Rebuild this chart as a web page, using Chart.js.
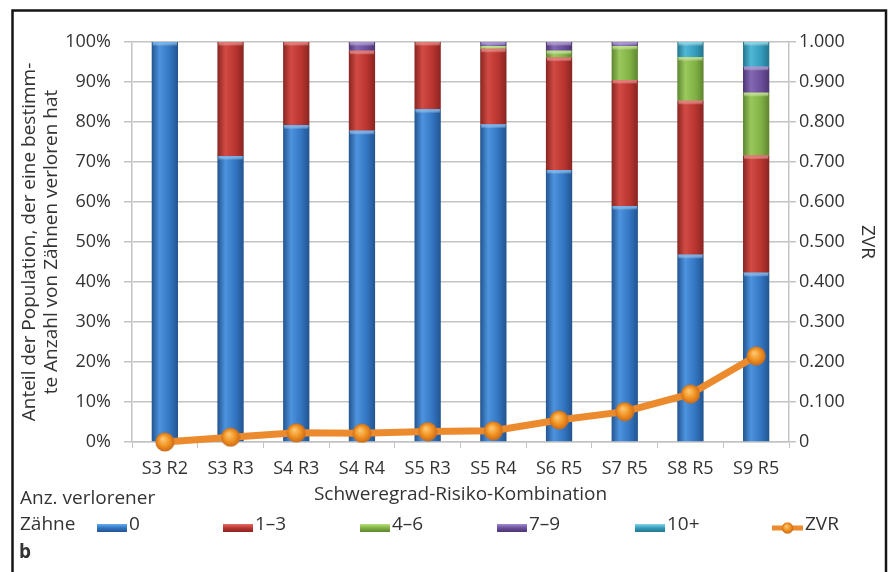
<!DOCTYPE html>
<html>
<head>
<meta charset="utf-8">
<script src="https://cdn.jsdelivr.net/npm/chart.js@4.4.1/dist/chart.umd.min.js"></script>
<style>
  html, body { margin: 0; padding: 0; background: #fff; }
  #wrap { position: relative; width: 893px; height: 572px; }
</style>
</head>
<body>
<div id="wrap"><canvas id="chart"></canvas></div>
<script>
// Severity/risk combinations along the x axis
const categories = ['S3 R2', 'S3 R3', 'S4 R3', 'S4 R4', 'S5 R3', 'S5 R4', 'S6 R5', 'S7 R5', 'S8 R5', 'S9 R5'];

// Share of the population (%) by number of lost teeth
const lost0      = [100, 71.5, 79.2, 77.8, 83.2, 79.4, 68.0, 59.0, 46.8, 42.3];
const lost1to3   = [0, 28.5, 20.8, 20.0, 16.8, 18.9, 28.1, 31.5, 38.5, 29.3];
const lost4to6   = [0, 0, 0, 0, 0, 0.7, 1.7, 8.5, 10.9, 15.7];
const lost7to9   = [0, 0, 0, 2.2, 0, 1.0, 2.2, 1.0, 0, 6.5];
const lost10plus = [0, 0, 0, 0, 0, 0, 0, 0, 3.8, 6.2];

// ZVR per combination (right axis)
const zvr = [0, 0.012, 0.023, 0.022, 0.026, 0.028, 0.055, 0.076, 0.120, 0.215];

const seriesNames = ['0', '1–3', '4–6', '7–9', '10+', 'ZVR'];
const percentTicks = ['0%', '10%', '20%', '30%', '40%', '50%', '60%', '70%', '80%', '90%', '100%'];
const zvrTicks = ['0', '0.100', '0.200', '0.300', '0.400', '0.500', '0.600', '0.700', '0.800', '0.900', '1.000'];

const palettes = [
  { base: '#3274c0', light: '#4d93de', dark: '#22548f', hi: '#66adee' },
  { base: '#b8342f', light: '#d24a44', dark: '#882521', hi: '#e66c66' },
  { base: '#80b044', light: '#9ac85c', dark: '#5e8530', hi: '#b8e27c' },
  { base: '#6b4e9a', light: '#8468b3', dark: '#4d3573', hi: '#a28cd2' },
  { base: '#349bba', light: '#50b8d6', dark: '#23758e', hi: '#80d4ea' }
];

const TEXT = '#333333';
const GRID = '#c3c3c3';
const FONT = '"Open Sans", sans-serif';
Chart.defaults.font.family = FONT;
Chart.defaults.color = TEXT;

// Shaded, column-like fill across each bar
function barFill(pal) {
  return (ctx) => {
    const chart = ctx.chart;
    const xs = chart.scales && chart.scales.x;
    if (!xs || ctx.type !== 'data' || !xs.width) return pal.base;
    const cx = xs.getPixelForValue(ctx.dataIndex);
    const half = xs.width / categories.length * 0.4 / 2;
    const g = chart.ctx.createLinearGradient(cx - half, 0, cx + half, 0);
    g.addColorStop(0, pal.dark);
    g.addColorStop(0.3, pal.light);
    g.addColorStop(0.7, pal.base);
    g.addColorStop(1, pal.dark);
    return g;
  };
}

// Round orange marker used for the ZVR line and its legend entry
const dot = document.createElement('canvas');
dot.width = 20; dot.height = 20;
(function () {
  const d = dot.getContext('2d');
  const rg = d.createRadialGradient(8, 7, 1, 10, 10, 10);
  rg.addColorStop(0, '#fcc46e');
  rg.addColorStop(0.55, '#f0911f');
  rg.addColorStop(1, '#c7661a');
  d.fillStyle = rg;
  d.beginPath();
  d.arc(10, 10, 9.5, 0, Math.PI * 2);
  d.fill();
})();

const barSeries = [lost0, lost1to3, lost4to6, lost7to9, lost10plus];
const datasets = barSeries.map((values, i) => ({
  type: 'bar',
  label: seriesNames[i],
  data: values,
  backgroundColor: barFill(palettes[i]),
  borderWidth: 0,
  stack: 'teeth',
  yAxisID: 'y',
  order: 1,
  categoryPercentage: 1.0,
  barPercentage: 0.4
}));
datasets.push({
  type: 'line',
  label: seriesNames[5],
  data: zvr,
  yAxisID: 'y1',
  borderColor: '#ec8a2e',
  borderWidth: 7,
  pointStyle: dot,
  tension: 0,
  clip: false,
  order: 0
});

// Light bevel strip at the top of each bar segment
const bevel = {
  id: 'bevel',
  afterDatasetDraw(chart, args) {
    const i = args.index;
    if (i >= palettes.length) return;
    const c = chart.ctx;
    c.save();
    args.meta.data.forEach((el) => {
      const p = el.getProps(['x', 'y', 'base', 'width'], true);
      const h = Math.abs(p.base - p.y);
      if (h < 2) return;
      const top = Math.min(p.y, p.base);
      const g = c.createLinearGradient(0, top, 0, top + 4);
      g.addColorStop(0, palettes[i].hi);
      g.addColorStop(1, 'rgba(255,255,255,0)');
      c.fillStyle = g;
      c.fillRect(p.x - p.width / 2 + 1, top, p.width - 2, Math.min(4, h));
    });
    c.restore();
  }
};

// Frame, legend and panel letter
const decorations = {
  id: 'decorations',
  beforeDraw(chart) {
    const c = chart.ctx;
    c.save();
    c.fillStyle = '#ffffff';
    c.fillRect(0, 0, chart.width, chart.height);
    c.restore();
  },
  afterDraw(chart) {
    const c = chart.ctx;
    c.save();
    // frame
    c.strokeStyle = '#151515';
    c.lineWidth = 2.5;
    c.beginPath();
    c.moveTo(12.5, chart.height);
    c.lineTo(12.5, 10.5);
    c.lineTo(886, 10.5);
    c.lineTo(886, chart.height);
    c.stroke();

    c.fillStyle = TEXT;
    c.textBaseline = 'middle';
    c.textAlign = 'left';
    c.font = '19px ' + FONT;
    c.fillText('Anz. verlorener', 20, 499);
    c.fillText('Zähne', 20, 525);

    const boxX = [97, 223, 360, 497, 635];
    const legendY = 528;
    boxX.forEach((x, i) => {
      const pal = palettes[i];
      const g = c.createLinearGradient(0, legendY - 4, 0, legendY + 4);
      g.addColorStop(0, pal.hi);
      g.addColorStop(0.5, pal.base);
      g.addColorStop(1, pal.dark);
      c.fillStyle = g;
      c.fillRect(x, legendY - 4, 30, 8);
      c.fillStyle = TEXT;
      c.fillText(chart.data.datasets[i].label, x + 32, 525);
    });
    // line entry
    c.strokeStyle = '#ec8a2e';
    c.lineWidth = 5;
    c.beginPath();
    c.moveTo(772, legendY);
    c.lineTo(803, legendY);
    c.stroke();
    c.drawImage(dot, 787.5 - 6, legendY - 6, 12, 12);
    c.fillStyle = TEXT;
    c.fillText(chart.data.datasets[5].label, 805, 525);

    c.font = 'bold 19px ' + FONT;
    c.fillText('b', 19, 553);
    c.restore();
  }
};

new Chart(document.getElementById('chart'), {
  data: { labels: categories, datasets },
  options: {
    responsive: true,
    maintainAspectRatio: false,
    animation: false,
    layout: { padding: { left: 14, right: 7, top: 42, bottom: 65 } },
    plugins: { legend: { display: false }, tooltip: { enabled: false } },
    scales: {
      x: {
        stacked: true,
        offset: true,
        grid: { display: true, drawOnChartArea: false, drawTicks: true, tickLength: 6, color: GRID, offset: true },
        border: { display: true, color: GRID, width: 1.5 },
        ticks: { font: { size: 18 }, padding: 10, color: TEXT, autoSkip: false, maxRotation: 0 },
        title: { display: true, text: 'Schweregrad-Risiko-Kombination', font: { size: 19, lineHeight: '22px' }, color: TEXT, padding: { top: 0, bottom: 1 } },
        afterFit(scale) { scale.height = 65; }
      },
      y: {
        stacked: true,
        position: 'left',
        min: 0,
        max: 100,
        grid: { color: GRID, lineWidth: 1.5, tickLength: 8 },
        border: { display: true, color: GRID, width: 1.5 },
        ticks: { stepSize: 10, autoSkip: false, font: { size: 18 }, padding: 13, color: TEXT,
                 callback: (v, idx) => percentTicks[idx] },
        title: { display: true, text: ['Anteil der Population, der eine bestimm-', 'te Anzahl von Zähnen verloren hat'],
                 font: { size: 19, lineHeight: '22px' }, color: TEXT, padding: { top: 5, bottom: 0 } },
        afterFit(scale) { scale.width = 118; }
      },
      y1: {
        position: 'right',
        min: 0,
        max: 1,
        grid: { drawOnChartArea: false, color: GRID, lineWidth: 1.5, tickLength: 7 },
        border: { display: true, color: GRID, width: 1.5 },
        ticks: { stepSize: 0.1, autoSkip: false, font: { size: 18 }, padding: 3, color: TEXT,
                 callback: (v, idx) => zvrTicks[idx] },
        title: { display: true, text: 'ZVR', font: { size: 19, lineHeight: '22px' }, color: TEXT, padding: { top: 8, bottom: 0 } },
        afterFit(scale) { scale.width = 97; }
      }
    }
  },
  plugins: [bevel, decorations]
});
</script>
</body>
</html>
